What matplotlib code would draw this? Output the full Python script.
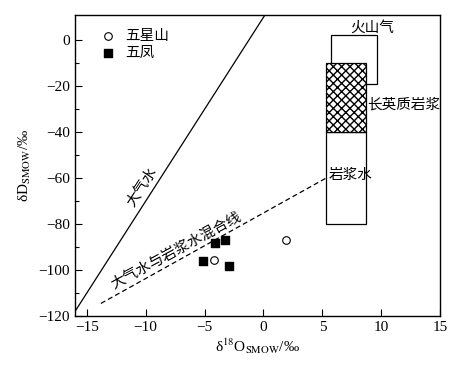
import matplotlib
matplotlib.use('Agg')
import matplotlib.pyplot as plt
from matplotlib.patches import Rectangle
import numpy as np

plt.rcParams['font.family'] = ['Liberation Serif', 'Noto Sans CJK SC', 'DejaVu Sans']
plt.rcParams['mathtext.fontset'] = 'stix'
plt.rcParams['hatch.linewidth'] = 1.0

# sample data
wxs_o18 = [1.9, -4.2]
wxs_d = [-87, -95.7]
wf_o18 = [-5.1, -4.1, -3.3, -2.9]
wf_d = [-96, -88, -87, -98]

# meteoric water line dD = 8*d18O + 10
mwl_x = np.array([-16.3, 1.0])
mwl_y = 8 * mwl_x + 10

# mixing line ends
mix_x = [-13.8, 5.3]
mix_y = [-114.5, -60]

# boxes: (x0, x1, y0, y1)
magma_water = (5.3, 8.7, -80, -40)
felsic_magma = (5.3, 8.7, -40, -10)
volcanic_gas = (5.7, 9.6, -19, 2.5)

fig = plt.figure(figsize=(4.6, 3.65), dpi=100)
ax = fig.add_axes([0.163, 0.134, 0.794, 0.825])

ax.plot(mwl_x, mwl_y, color='black', lw=0.9)
ax.plot(mix_x, mix_y, color='black', lw=0.9, ls=(0, (4, 2.5)))

def box(b, **kw):
    x0, x1, y0, y1 = b
    ax.add_patch(Rectangle((x0, y0), x1 - x0, y1 - y0, edgecolor='black', lw=0.9, **kw))

box(volcanic_gas, facecolor='none')
box(magma_water, facecolor='white')
box(felsic_magma, facecolor='white', hatch='xxxx')

ax.scatter(wxs_o18, wxs_d, s=30, marker='o', facecolor='white', edgecolor='black', lw=0.8, zorder=5, label='五星山')
ax.scatter(wf_o18, wf_d, s=40, marker='s', color='black', zorder=5, label='五凤')

fs = 10.5
ax.text(9.2, 5.6, '火山气', ha='center', va='center', fontsize=fs)
ax.text(11.9, -28, '长英质岩浆', ha='center', va='center', fontsize=fs)
ax.text(7.4, -59, '岩浆水', ha='center', va='center', fontsize=fs)
ax.text(-10.3, -64, '大气水', ha='center', va='center', fontsize=fs, rotation=57)
ax.text(-7.4, -91.5, '大气水与岩浆水混合线', ha='center', va='center', fontsize=fs, rotation=28.5)

ax.set_xlim(-16, 15)
ax.set_ylim(-120, 11)
ax.set_xticks([-15, -10, -5, 0, 5, 10, 15])
ax.set_yticks([0, -20, -40, -60, -80, -100, -120])
ax.set_yticks(np.arange(-110, 10, 20), minor=True)
ax.set_xticklabels(['−15', '−10', '−5', '0', '5', '10', '15'])
ax.set_yticklabels(['0', '−20', '−40', '−60', '−80', '−100', '−120'])
ax.tick_params(direction='in', length=5, labelsize=11, width=0.8)
ax.tick_params(which='minor', direction='in', length=3, width=0.8)
for s in ax.spines.values():
    s.set_linewidth(1.0)

ax.set_xlabel('δ$^{18}$O$_{\\mathrm{SMOW}}$/‰', fontsize=11, labelpad=2)
ax.set_ylabel('δD$_{\\mathrm{SMOW}}$/‰', fontsize=11, labelpad=4)

ax.legend(loc='upper left', frameon=False, fontsize=fs, handletextpad=0.2,
          borderaxespad=0.5, labelspacing=0.25, bbox_to_anchor=(0.015, 0.995))

fig.savefig('out.png', dpi=100)
